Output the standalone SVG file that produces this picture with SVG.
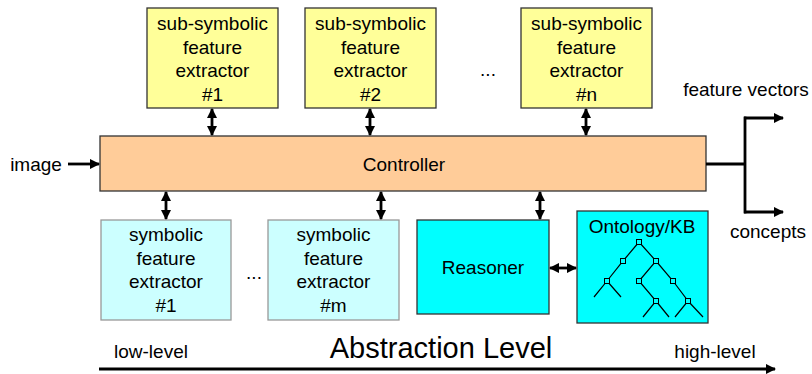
<svg xmlns="http://www.w3.org/2000/svg" width="812" height="374" viewBox="0 0 812 374">
<style>
text{font-family:"Liberation Sans",Arial,sans-serif;font-size:19px;fill:#000;text-anchor:middle}
.ys{fill:#FFFF99;stroke:#333;stroke-width:1.3}
.ctl{fill:#FFCC99;stroke:#333;stroke-width:1.3}
.sym{fill:#CCFFFF;stroke:#999;stroke-width:1.3}
.cy{fill:#00FFFF;stroke:#333;stroke-width:1.3}
.ln{stroke:#000;stroke-width:2.8;fill:none}
.tr{stroke:#000;stroke-width:1.2;fill:none}
.nd{fill:#00FFFF;stroke:#000;stroke-width:1}
</style>
<defs>
<marker id="ah" viewBox="0 0 10 10" refX="9" refY="5" markerWidth="3.7" markerHeight="3.7" orient="auto-start-reverse" markerUnits="strokeWidth">
<path d="M0,0 L10,5 L0,10 z" fill="#000"/>
</marker>
</defs>
<g id="sub1"><rect class="ys" x="147" y="8" width="131" height="100"/>
<text x="212.5" y="30">sub-symbolic</text><text x="212.5" y="54">feature</text><text x="212.5" y="77">extractor</text><text x="212.5" y="101">#1</text></g>
<g id="sub2"><rect class="ys" x="305" y="8" width="131" height="100"/>
<text x="370.5" y="30">sub-symbolic</text><text x="370.5" y="54">feature</text><text x="370.5" y="77">extractor</text><text x="370.5" y="101">#2</text></g>
<g id="subn"><rect class="ys" x="521" y="8" width="131" height="100"/>
<text x="586.5" y="30">sub-symbolic</text><text x="586.5" y="54">feature</text><text x="586.5" y="77">extractor</text><text x="586.5" y="101">#n</text></g>
<text x="488" y="76">...</text>
<g id="controller"><rect class="ctl" x="100" y="136" width="606" height="55"/>
<text x="404" y="171">Controller</text></g>
<g id="sym1"><rect class="sym" x="101" y="220" width="130" height="100"/>
<text x="166" y="241">symbolic</text><text x="166" y="265">feature</text><text x="166" y="288">extractor</text><text x="166" y="312">#1</text></g>
<g id="symm"><rect class="sym" x="268" y="220" width="131" height="100"/>
<text x="333.5" y="241">symbolic</text><text x="333.5" y="265">feature</text><text x="333.5" y="288">extractor</text><text x="333.5" y="312">#m</text></g>
<text x="254" y="279">...</text>
<g id="reasoner"><rect class="cy" x="417" y="220" width="132" height="94"/>
<text x="483" y="274">Reasoner</text></g>
<g id="ontology"><rect class="cy" x="577" y="211" width="131" height="112"/>
<text x="642" y="233">Ontology/KB</text>
<g class="tr">
<path d="M639,242 L623,261 L607,281 L594,297 M607,281 L621,297"/>
<path d="M639,242 L656,261 L639,281 L656,301 L643,317 M656,301 L669,317"/>
<path d="M656,261 L673,281 L688,301 L675,317 M688,301 L703,317"/>
</g>
<g class="nd">
<rect x="636.5" y="239.5" width="5" height="5"/>
<rect x="620.5" y="258.5" width="5" height="5"/>
<rect x="653.5" y="258.5" width="5" height="5"/>
<rect x="604.5" y="278.5" width="5" height="5"/>
<rect x="636.5" y="278.5" width="5" height="5"/>
<rect x="670.5" y="278.5" width="5" height="5"/>
<rect x="653.5" y="298.5" width="5" height="5"/>
<rect x="685.5" y="298.5" width="5" height="5"/>
</g></g>
<g id="connectors">
<line class="ln" x1="212" y1="109" x2="212" y2="135" marker-start="url(#ah)" marker-end="url(#ah)"/>
<line class="ln" x1="370" y1="109" x2="370" y2="135" marker-start="url(#ah)" marker-end="url(#ah)"/>
<line class="ln" x1="586" y1="109" x2="586" y2="135" marker-start="url(#ah)" marker-end="url(#ah)"/>
<line class="ln" x1="166" y1="192" x2="166" y2="219" marker-start="url(#ah)" marker-end="url(#ah)"/>
<line class="ln" x1="381" y1="192" x2="381" y2="219" marker-start="url(#ah)" marker-end="url(#ah)"/>
<line class="ln" x1="540" y1="192" x2="540" y2="219" marker-start="url(#ah)" marker-end="url(#ah)"/>
<line class="ln" x1="550" y1="268" x2="576" y2="268" marker-start="url(#ah)" marker-end="url(#ah)"/>
<line class="ln" x1="68" y1="164" x2="99" y2="164" marker-end="url(#ah)"/>
<path class="ln" d="M706,164 H745"/>
<path class="ln" d="M745,116.6 V213.4"/>
<line class="ln" x1="744" y1="118" x2="783" y2="118" marker-end="url(#ah)"/>
<line class="ln" x1="744" y1="212" x2="783" y2="212" marker-end="url(#ah)"/>
<line class="ln" x1="99" y1="369" x2="775" y2="369" marker-end="url(#ah)"/>
</g>
<text x="36" y="171">image</text>
<text x="746" y="96">feature vectors</text>
<text x="768" y="238">concepts</text>
<text x="151" y="358">low-level</text>
<text x="715" y="358">high-level</text>
<text x="441" y="358" style="font-size:29px">Abstraction Level</text>
</svg>
